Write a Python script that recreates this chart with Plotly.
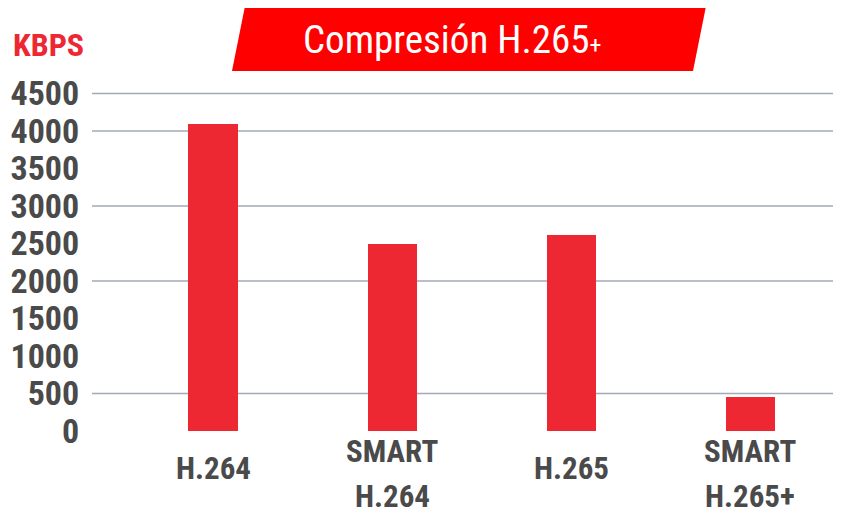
import plotly.graph_objects as go

categories = ["H.264", "SMART<br>H.264", "H.265", "SMART<br>H.265+"]
kbps = [4100, 2500, 2620, 450]
y_ticks = [0, 500, 1000, 1500, 2000, 2500, 3000, 3500, 4000, 4500]
grid_values = [4500, 4000, 3000, 2000, 500]
title_text = "Compresión H.265<span style='font-size:24px'>+</span>"
unit_label = "KBPS"

FONT = "Liberation Sans Narrow, Roboto Condensed, Noto Sans Condensed, DejaVu Sans Condensed, sans-serif"
GRAY = "#4a4a4a"
RED = "#ee2833"

OFF = 8  # default page body margin
W, H = 841 - OFF, 514 - OFF
ML, MR, MT, MB = 84, 0, 48, 83
PW, PH = W - ML - MR, H - MT - MB


def px2paper(px, py):
    return (px - OFF - ML) / PW, (H - MB - (py - OFF)) / PH


fig = go.Figure()
fig.add_trace(go.Bar(
    x=list(range(len(categories))), y=kbps,
    marker=dict(color=RED, line=dict(width=0)),
    width=0.274, hoverinfo="y",
))

shapes = []
for g in grid_values:
    shapes.append(dict(type="line", xref="paper", yref="y", x0=0, x1=1, y0=g, y1=g,
                       line=dict(color="#a3a9b8", width=1.5), layer="below"))

# title banner (parallelogram)
pts = [(245, 6), (706, 6), (693, 71), (232, 71)]
pp = [px2paper(*p) for p in pts]
path = "M " + " L ".join(f"{x:.4f},{y:.4f}" for x, y in pp) + " Z"
shapes.append(dict(type="path", xref="paper", yref="paper", path=path,
                   fillcolor="#ff0000", line=dict(width=0)))

annotations = []
tx, ty = px2paper(452, 40)
annotations.append(dict(x=tx, y=ty, xref="paper", yref="paper", text=title_text,
                        showarrow=False, xanchor="center", yanchor="middle",
                        font=dict(family=FONT, size=39, color="white")))
kx, ky = px2paper(48, 45)
annotations.append(dict(x=kx, y=ky, xref="paper", yref="paper", text=f"<b>{unit_label}</b>",
                        showarrow=False, xanchor="center", yanchor="middle",
                        font=dict(family=FONT, size=32, color=RED)))

# category labels, one annotation per line
pitch = 44.5
for i, lab in enumerate(categories):
    lines = lab.split("<br>")
    n = len(lines)
    center = 468 + (n - 1) * 6
    for j, ln in enumerate(lines):
        cy = center + (j - (n - 1) / 2) * pitch
        _, yp = px2paper(0, cy)
        annotations.append(dict(x=i, y=yp, xref="x", yref="paper", text=f"<b>{ln}</b>",
                                showarrow=False, xanchor="center", yanchor="middle",
                                font=dict(family=FONT, size=31, color=GRAY)))

fig.update_layout(
    width=W, height=H,
    margin=dict(l=ML, r=MR, t=MT, b=MB, pad=0, autoexpand=False),
    plot_bgcolor="white", paper_bgcolor="white",
    showlegend=False,
    shapes=shapes, annotations=annotations,
    xaxis=dict(range=[-0.676, 3.508], showticklabels=False, showgrid=False,
               zeroline=False, showline=False, ticks="", automargin=False),
    yaxis=dict(range=[0, 5000], tickvals=y_ticks,
               ticktext=[f"<b>{v}</b>" for v in y_ticks],
               showgrid=False, zeroline=False, showline=False, automargin=False,
               ticks="outside", ticklen=5, tickcolor="rgba(0,0,0,0)",
               tickfont=dict(family=FONT, size=34, color=GRAY)),
    bargap=0,
)

fig.write_html("out.html")
